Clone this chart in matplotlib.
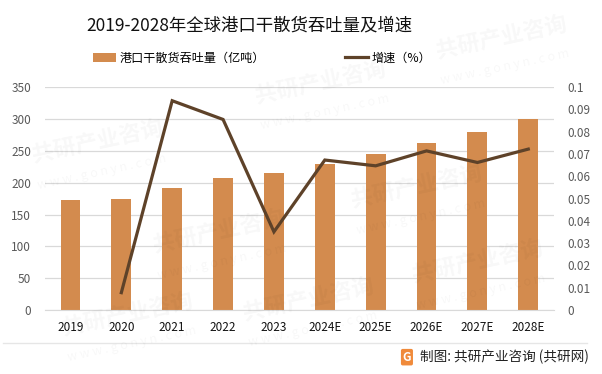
import matplotlib
matplotlib.use("Agg")
import matplotlib.pyplot as plt
import numpy as np

plt.rcParams['font.family'] = ['Noto Sans CJK SC', 'DejaVu Sans']

# data
years = ['2019', '2020', '2021', '2022', '2023', '2024E', '2025E', '2026E', '2027E', '2028E']
throughput = [173, 174, 191.5, 207, 215, 229, 245, 262, 279, 300]   # 亿吨
growth = [None, 0.0078, 0.0939, 0.0855, 0.0351, 0.0673, 0.0647, 0.0714, 0.0662, 0.0722]

bar_color = '#D38B4E'
line_color = '#5E4229'

fig = plt.figure(figsize=(6.02, 3.74), dpi=100)
ax = fig.add_axes([0.0748, 0.171, 0.845, 0.596])
ax2 = ax.twinx()

x = np.arange(len(years))
ax.bar(x, throughput, width=0.39, color=bar_color, zorder=2, label='港口干散货吞吐量（亿吨）')

gx = [i for i, g in enumerate(growth) if g is not None]
gy = [g for g in growth if g is not None]
ax2.plot(gx, gy, color=line_color, lw=2.3, solid_joinstyle='miter', label='增速（%）')

ax.set_xlim(-0.5, len(years) - 0.5)
ax.set_ylim(0, 350)
ax.set_yticks(np.arange(0, 351, 50))
ax2.set_ylim(0, 0.1)
ax2.set_yticks(np.arange(0, 0.101, 0.01))
ax2.set_yticklabels(['0'] + ['%g' % round(v, 2) for v in np.arange(0.01, 0.101, 0.01)])

ax.set_xticks(x)
ax.set_xticklabels(years)
ax.grid(axis='y', color='#d9d9d9', lw=0.9, zorder=0)
for a in (ax, ax2):
    for s in a.spines.values():
        s.set_visible(False)
    a.tick_params(length=0)
ax.spines['bottom'].set_visible(True)
ax.spines['bottom'].set_color('#d9d9d9')
ax.tick_params(axis='y', labelsize=8.5, labelcolor='#595959', pad=10)
ax2.tick_params(axis='y', labelsize=8.5, labelcolor='#595959', pad=10)
ax.tick_params(axis='x', labelsize=8.5, labelcolor='#111111', pad=8)

fig.text(0.414, 0.933, '2019-2028年全球港口干散货吞吐量及增速', ha='center', va='center',
         fontsize=12.5, color='#111111')

# legend
h1, l1 = ax.get_legend_handles_labels()
h2, l2 = ax2.get_legend_handles_labels()
fig.legend(h1, l1, loc='center left', bbox_to_anchor=(0.137, 0.845), frameon=False,
           fontsize=8.7, handlelength=1.9, handleheight=0.75, handletextpad=0.3)
fig.legend(h2, l2, loc='center left', bbox_to_anchor=(0.555, 0.845), frameon=False,
           fontsize=8.7, handlelength=1.9, handletextpad=0.3)

# footer
fig.add_artist(plt.Line2D([0.005, 0.975], [0.083, 0.083], color='#e6e6e6', lw=1.0))
fig.text(0.676, 0.045, 'G', ha='center', va='center', fontsize=8.5, color='white',
         fontweight='bold', bbox=dict(boxstyle='round,pad=0.15', fc='#F08A3A', ec='none'))
fig.text(0.697, 0.045, '制图: 共研产业咨询 (共研网)', ha='left', va='center',
         fontsize=9.8, color='#222222')

# faint watermark
for wx, wy in [(0.05, 0.62), (0.42, 0.78), (0.72, 0.9), (0.25, 0.38), (0.58, 0.5),
               (0.68, 0.3), (0.1, 0.16), (0.4, 0.2)]:
    fig.text(wx, wy, '共研产业咨询', fontsize=16, fontweight='bold', color='#000000',
             alpha=0.03, rotation=12, ha='left', va='center')
    fig.text(wx + 0.01, wy - 0.08, 'w w w . g o n y n . c o m', fontsize=9, color='#000000',
             alpha=0.03, rotation=12, ha='left', va='center')

fig.savefig('out.png', dpi=100)
